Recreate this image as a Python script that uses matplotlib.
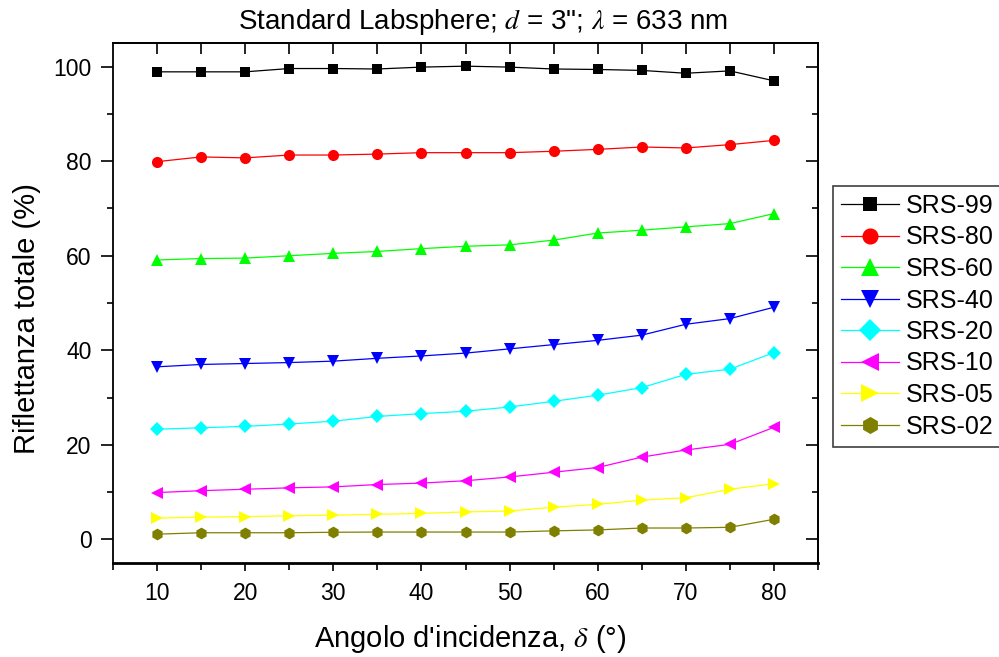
import numpy as np
from matplotlib import pyplot as plt
from matplotlib.ticker import MultipleLocator

plt.rcParams['font.family'] = ['Liberation Sans', 'DejaVu Sans']
plt.rcParams['mathtext.fontset'] = 'stix'

# incidence angles (deg)
angles = [10, 15, 20, 25, 30, 35, 40, 45, 50, 55, 60, 65, 70, 75, 80]

# total reflectance (%) of each Spectralon standard
srs99 = [98.9, 98.9, 98.9, 99.6, 99.6, 99.5, 99.9, 100.1, 99.9, 99.5, 99.4, 99.2, 98.6, 99.1, 97.0]
srs80 = [79.9, 80.9, 80.7, 81.3, 81.3, 81.5, 81.8, 81.8, 81.8, 82.1, 82.5, 83.0, 82.8, 83.5, 84.4]
srs60 = [59.1, 59.4, 59.5, 60.0, 60.5, 60.9, 61.5, 62.0, 62.3, 63.3, 64.8, 65.4, 66.1, 66.8, 68.9]
srs40 = [36.5, 37.0, 37.2, 37.4, 37.7, 38.3, 38.8, 39.4, 40.3, 41.2, 42.1, 43.2, 45.5, 46.7, 49.1]
srs20 = [23.3, 23.6, 23.9, 24.4, 25.0, 26.0, 26.6, 27.1, 28.0, 29.2, 30.5, 32.1, 34.9, 36.0, 39.5]
srs10 = [9.9, 10.3, 10.6, 10.9, 11.1, 11.6, 11.9, 12.4, 13.2, 14.2, 15.2, 17.4, 18.9, 20.1, 23.7]
srs05 = [4.5, 4.7, 4.8, 5.0, 5.1, 5.3, 5.5, 5.8, 6.0, 6.8, 7.4, 8.3, 8.8, 10.6, 11.8]
srs02 = [1.1, 1.4, 1.4, 1.4, 1.5, 1.55, 1.55, 1.55, 1.55, 1.8, 2.0, 2.4, 2.4, 2.55, 4.25]

labels = ['SRS-99', 'SRS-80', 'SRS-60', 'SRS-40', 'SRS-20', 'SRS-10', 'SRS-05', 'SRS-02']
series = [srs99, srs80, srs60, srs40, srs20, srs10, srs05, srs02]
colors = ['#000000', '#ff0000', '#00ff00', '#0000ff', '#00ffff', '#ff00ff', '#ffff00', '#808000']
markers = ['s', 'o', '^', 'v', 'D', '<', '>', 'h']
sizes = [7, 8, 9, 9, 7.5, 9, 9, 8.5]

fig = plt.figure(figsize=(9.99, 6.57), dpi=100)
ax = fig.add_axes([113/999, 1-563/657, 705/999, 520/657])

for vals, lab, c, m, s in zip(series, labels, colors, markers, sizes):
    ax.plot(angles, vals, color=c, marker=m, markersize=s, lw=0.9,
            markeredgewidth=0, label=lab)

ax.set_xlim(5, 85)
ax.set_ylim(-5, 105)

ax.xaxis.set_major_locator(MultipleLocator(10))
ax.xaxis.set_minor_locator(MultipleLocator(5))
ax.yaxis.set_major_locator(MultipleLocator(20))
ax.yaxis.set_minor_locator(MultipleLocator(10))
ax.set_xticks(np.arange(10, 81, 10))

ax.tick_params(axis='both', which='major', direction='out', labelsize=16.5, width=1.2, color='black')
ax.tick_params(axis='x', which='major', length=6, pad=8)
ax.tick_params(axis='x', which='minor', direction='out', length=5, width=1.2)
ax.tick_params(axis='y', which='major', length=8.5, pad=7)
ax.tick_params(axis='y', which='minor', direction='out', length=4, width=1.2)

for side in ['left', 'top', 'right']:
    ax.spines[side].set_linewidth(1.3)
ax.spines['bottom'].set_linewidth(2)

# inward ticks on the top and right frame
top = ax.secondary_xaxis('top')
top.set_xticks(np.arange(10, 81, 5))
top.tick_params(direction='in', length=8, width=1.2, labeltop=False)
top.spines['top'].set_linewidth(1.3)

right = ax.secondary_yaxis('right')
right.yaxis.set_major_locator(MultipleLocator(20))
right.yaxis.set_minor_locator(MultipleLocator(10))
right.tick_params(which='major', direction='in', length=8.5, width=1.2, labelright=False)
right.tick_params(which='minor', direction='in', length=4, width=1.2)
right.spines['right'].set_linewidth(1.3)

fig.text(483/999, 1-29/657, 'Standard Labsphere; $d$ = 3"; $\\lambda$ = 633 nm',
         ha='center', va='baseline', fontsize=20)
fig.text(470/999, 1-647/657, "Angolo d'incidenza, $\\delta$ (°)",
         ha='center', va='baseline', fontsize=21)
fig.text(27/999, 1-319/657, 'Riflettanza totale (%)', rotation=90,
         ha='center', va='center', fontsize=21)

# legend box runs past the right edge of the figure
leg = fig.legend(loc='upper left', bbox_to_anchor=(833/999, 0, 0.2, 1-186/657),
                 mode='expand', borderaxespad=0, fontsize=18, handlelength=2.3,
                 handletextpad=0.28, labelspacing=0.3, borderpad=0.32,
                 markerscale=1.45, fancybox=False, framealpha=1,
                 edgecolor='#404040')
leg.get_frame().set_linewidth(1.2)

plt.savefig('out.png', dpi=100)
